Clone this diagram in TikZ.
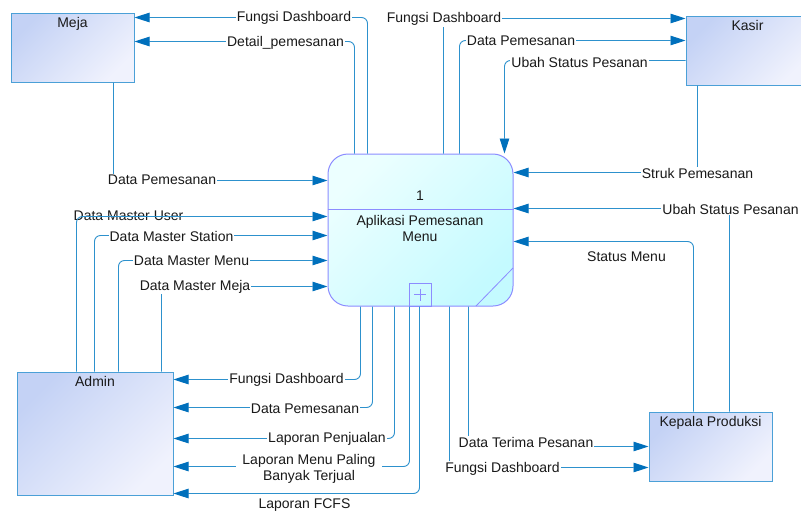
\documentclass[tikz,border=0pt]{standalone}
\usepackage{fontspec}
\setmainfont{Liberation Sans}
\usetikzlibrary{arrows.meta}
\definecolor{flowc}{RGB}{45,145,205}
\definecolor{tipc}{RGB}{0,112,188}
\definecolor{entline}{RGB}{75,160,215}
\definecolor{entA}{RGB}{196,210,245}
\definecolor{entB}{RGB}{240,242,253}
\definecolor{procline}{RGB}{140,140,255}
\definecolor{procA}{RGB}{236,255,255}
\definecolor{procB}{RGB}{196,250,255}
\definecolor{txt}{RGB}{25,25,25}
\begin{document}
\begin{tikzpicture}[x=1pt,y=-1pt,
  font=\fontsize{14}{16}\selectfont,
  every node/.style={text=txt},
  entity/.style={draw=entline, line width=1pt, rectangle, inner sep=0pt,
    top color=entA, bottom color=entB, shading angle=45},
  procbox/.style={draw=procline, line width=1pt, rectangle, rounded corners=20pt,
    inner sep=0pt, top color=procA, bottom color=procB, shading angle=45},
  flow/.style={draw=flowc, line width=0.9pt, rounded corners=6pt,
    -{Triangle[length=15pt,width=9.5pt,color=tipc]}},
  lbl/.style={fill=white, inner sep=1pt, align=center},
  lbln/.style={inner sep=1pt, align=center},
  ename/.style={anchor=north, inner sep=5pt}]
\useasboundingbox (0,0) rectangle (801,512);
\fill[white] (0,0) rectangle (801,512);

% external entities
\node[entity, minimum width=123pt, minimum height=69pt,
  label={[ename]north:Meja}] (meja) at (72.5,47.5) {};
\node[entity, minimum width=123pt, minimum height=69pt,
  label={[ename]north:Kasir}] (kasir) at (747.5,50.5) {};
\node[entity, minimum width=156pt, minimum height=123pt,
  label={[ename]north:Admin}] (admin) at (95,433.5) {};
\node[entity, minimum width=123pt, minimum height=69pt,
  label={[ename]north:Kepala Produksi}] (kp) at (710.5,446.5) {};

% process
\node[procbox, minimum width=185pt, minimum height=152pt] (proc) at (420.5,230) {};
\draw[procline, line width=0.8pt] (proc.west |- 0,209) -- (proc.east |- 0,209);
\node (pnum) at (420,196) {1};
\node[align=center] (pname) at (420,228) {Aplikasi Pemesanan\\Menu};
\draw[procline, line width=0.8pt] (409,306) rectangle (431,283);
\draw[procline, line width=0.8pt] (414,294.5) -- (426,294.5) (420,288.5) -- (420,300.5);
\draw[procline, line width=0.8pt] (476,306) -- (513,268);

% flows to and from Meja
\draw[flow] ([xshift=40pt]proc.north west) |- ([yshift=-5pt]meja.north east);
\node[lbl] at (294,18) {Fungsi Dashboard};
\draw[flow] ([xshift=27pt]proc.north west) |- ([yshift=-29pt]meja.north east);
\node[lbl] at (285.5,43) {Detail\_pemesanan};
\draw[flow] ([xshift=103pt]meja.south west) |- ([yshift=-27pt]proc.north west);
\node[lbl] at (162,180) {Data Pemesanan};

% flows to and from Kasir
\draw[flow] ([xshift=116pt]proc.north west) |- ([yshift=-3pt]kasir.north west);
\node[lbl] at (444,19) {Fungsi Dashboard};
\draw[flow] ([xshift=132pt]proc.north west) |- ([yshift=-25pt]kasir.north west);
\node[lbl] at (521,41) {Data Pemesanan};
\draw[flow] ([yshift=-45pt]kasir.north west) -| ([xshift=-9pt]proc.north east);
\node[lbl] at (579.5,62) {Ubah Status Pesanan};
\draw[flow] ([xshift=12pt]kasir.south west) |- ([yshift=-19pt]proc.north east);
\node[lbl] at (697.5,173) {Struk Pemesanan};

% flows to and from Kepala Produksi
\draw[flow] ([xshift=81pt]kp.north west) |- ([yshift=-55pt]proc.north east);
\node[lbl] at (730.5,209) {Ubah Status Pesanan};
\draw[flow] ([xshift=45pt]kp.north west) |- ([yshift=-88pt]proc.north east);
\node[lbln] at (626.5,257) {Status Menu};
\draw[flow] ([xshift=141pt]proc.south west) |- ([yshift=-35pt]kp.north west);
\node[lbl] at (526,442) {Data Terima Pesanan};
\draw[flow] ([xshift=122pt]proc.south west) |- ([yshift=-56pt]kp.north west);
\node[lbl] at (502.5,469) {Fungsi Dashboard};

% master data from Admin
\node[lbln] at (128.5,216) {Data Master User};
\draw[flow] ([xshift=60pt]admin.north west) |- ([yshift=-63pt]proc.north west);
\draw[flow] ([xshift=78pt]admin.north west) |- ([yshift=-82pt]proc.north west);
\node[lbl] at (171.5,236) {Data Master Station};
\draw[flow] ([xshift=102pt]admin.north west) |- ([yshift=-107pt]proc.north west);
\node[lbl] at (191.5,261) {Data Master Menu};
\draw[flow] ([xshift=145pt]admin.north west) |- ([yshift=-133pt]proc.north west);
\node[lbl] at (195,286.5) {Data Master Meja};

% reports to Admin
\draw[flow] ([xshift=33pt]proc.south west) |- ([yshift=-8pt]admin.north east);
\node[lbl] at (286.5,380) {Fungsi Dashboard};
\draw[flow] ([xshift=45pt]proc.south west) |- ([yshift=-36pt]admin.north east);
\node[lbl] at (305,409) {Data Pemesanan};
\draw[flow] ([xshift=67pt]proc.south west) |- ([yshift=-67pt]admin.north east);
\node[lbl] at (327,439) {Laporan Penjualan};
\draw[flow] ([xshift=82pt]proc.south west) |- ([yshift=-95pt]admin.north east);
\node[lbl, inner xsep=6pt] at (309,468.5) {Laporan Menu Paling\\Banyak Terjual};
\draw[flow] ([xshift=92pt]proc.south west) |- ([yshift=-122pt]admin.north east);
\node[lbln] at (304.5,505) {Laporan FCFS};
\end{tikzpicture}
\end{document}
